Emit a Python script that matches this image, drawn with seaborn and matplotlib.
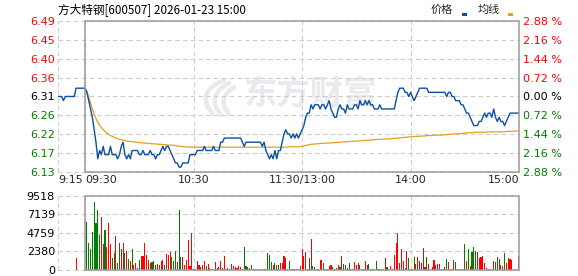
import numpy as np
import pandas as pd
import matplotlib
matplotlib.use("Agg")
import matplotlib.pyplot as plt
import seaborn as sns
from matplotlib.patches import Rectangle, PathPatch
from matplotlib.path import Path

# ---------------- data ----------------
title = "方大特钢[600507] 2026-01-23 15:00"
prev_close = 6.31

pre_minutes = [-15, -14, -13, -12, -11, -10, -9, -8, -7, -6, -5, -4, -3, -2, -1]
pre_prices = [6.31, 6.31, 6.31, 6.30, 6.31, 6.31, 6.31, 6.31, 6.31, 6.31,
              6.33, 6.33, 6.33, 6.33, 6.33]

main_prices = [
    6.33, 6.32, 6.30, 6.28, 6.26, 6.23, 6.20, 6.16, 6.18, 6.17,
    6.19, 6.17, 6.17, 6.17, 6.19, 6.17, 6.17, 6.17, 6.16, 6.17,
    6.19, 6.20, 6.17, 6.16, 6.17, 6.16, 6.18, 6.18, 6.18, 6.18,
    6.17, 6.17, 6.18, 6.17, 6.17, 6.17, 6.18, 6.17, 6.17, 6.16,
    6.17, 6.17, 6.18, 6.19, 6.18, 6.19, 6.19, 6.18, 6.17, 6.16,
    6.15, 6.15, 6.14, 6.14, 6.15, 6.15, 6.15, 6.15, 6.17, 6.17,
    6.17, 6.17, 6.18, 6.18, 6.18, 6.18, 6.19, 6.18, 6.18, 6.18,
    6.18, 6.19, 6.18, 6.18, 6.18, 6.20, 6.20, 6.21, 6.21, 6.21,
    6.21, 6.21, 6.21, 6.21, 6.21, 6.21, 6.21, 6.20, 6.19, 6.20,
    6.20, 6.20, 6.20, 6.20, 6.20, 6.20, 6.20, 6.20, 6.19, 6.20,
    6.18, 6.17, 6.16, 6.17, 6.16, 6.18, 6.16, 6.18, 6.18, 6.20,
    6.22, 6.23, 6.22, 6.22, 6.21, 6.22, 6.21, 6.22, 6.21, 6.22,
    6.23, 6.24, 6.26, 6.27, 6.27, 6.29, 6.28, 6.29, 6.29, 6.29,
    6.28, 6.29, 6.29, 6.28, 6.29, 6.30, 6.28, 6.27, 6.26, 6.26,
    6.28, 6.29, 6.28, 6.28, 6.27, 6.29, 6.28, 6.28, 6.28, 6.29,
    6.29, 6.28, 6.30, 6.29, 6.29, 6.30, 6.29, 6.30, 6.29, 6.29,
    6.28, 6.28, 6.28, 6.29, 6.28, 6.28, 6.28, 6.28, 6.28, 6.28,
    6.28, 6.28, 6.30, 6.32, 6.33, 6.33, 6.33, 6.32, 6.32, 6.31,
    6.32, 6.31, 6.30, 6.31, 6.32, 6.33, 6.33, 6.33, 6.33, 6.33,
    6.32, 6.32, 6.32, 6.32, 6.32, 6.32, 6.32, 6.32, 6.32, 6.32,
    6.31, 6.32, 6.32, 6.31, 6.31, 6.30, 6.30, 6.30, 6.29, 6.29,
    6.28, 6.27, 6.27, 6.26, 6.25, 6.24, 6.24, 6.24, 6.25, 6.25,
    6.26, 6.27, 6.26, 6.27, 6.27, 6.26, 6.28, 6.26, 6.25, 6.26,
    6.25, 6.25, 6.24, 6.25, 6.26, 6.27, 6.27, 6.27, 6.27, 6.27,
    6.27,
]

avg_prices = [
    6.330, 6.322, 6.308, 6.294, 6.280, 6.268, 6.257, 6.248, 6.241, 6.235,
    6.230, 6.226, 6.222, 6.219, 6.216, 6.214, 6.212, 6.210, 6.208, 6.207,
    6.206, 6.205, 6.204, 6.203, 6.202, 6.202, 6.201, 6.201, 6.200, 6.200,
    6.199, 6.199, 6.198, 6.198, 6.197, 6.197, 6.197, 6.196, 6.196, 6.196,
    6.195, 6.195, 6.195, 6.194, 6.194, 6.194, 6.193, 6.193, 6.193, 6.192,
    6.192, 6.191, 6.190, 6.190, 6.189, 6.189, 6.189, 6.188,
    6.188, 6.188, 6.188, 6.188, 6.188, 6.188, 6.188, 6.188, 6.188, 6.188,
    6.188, 6.188, 6.188, 6.188, 6.188, 6.188, 6.188, 6.188, 6.188, 6.188,
    6.188, 6.188, 6.188, 6.188, 6.188, 6.188, 6.188, 6.188, 6.188, 6.188,
    6.188, 6.188, 6.188, 6.188, 6.188, 6.188, 6.188, 6.188, 6.188, 6.188,
    6.188, 6.188, 6.188, 6.188, 6.188, 6.188, 6.188, 6.188, 6.188, 6.188,
    6.188, 6.188, 6.188, 6.188, 6.188,
    6.189, 6.189, 6.189, 6.189, 6.189, 6.189, 6.189,
    6.190, 6.191, 6.192, 6.193, 6.194,
    6.195, 6.195, 6.196, 6.196, 6.196, 6.197, 6.197, 6.197, 6.198, 6.198, 6.198, 6.198, 6.199,
    6.199, 6.199, 6.200, 6.200, 6.200, 6.201, 6.201, 6.201, 6.202, 6.202, 6.202, 6.202,
    6.203, 6.203, 6.203, 6.204, 6.204, 6.204, 6.205, 6.205, 6.205, 6.206, 6.206, 6.206,
    6.207, 6.207, 6.207, 6.207, 6.208, 6.208, 6.208, 6.208,
    6.209, 6.209, 6.209, 6.210, 6.210, 6.211, 6.211, 6.212, 6.212,
    6.213, 6.213, 6.213, 6.214, 6.214, 6.214, 6.214, 6.215,
    6.215, 6.215, 6.216, 6.216, 6.216, 6.216, 6.217, 6.217, 6.217, 6.217, 6.217, 6.218, 6.218,
    6.218, 6.219, 6.219, 6.219, 6.220, 6.220, 6.220, 6.220, 6.221, 6.221,
    6.222, 6.222, 6.223, 6.223, 6.223, 6.224, 6.224, 6.224, 6.224, 6.224,
    6.224, 6.224, 6.224, 6.225, 6.225, 6.225, 6.225, 6.225, 6.225, 6.225,
    6.225, 6.225, 6.225, 6.226, 6.226, 6.226,
    6.226, 6.226, 6.227, 6.227, 6.227,
]

pre_vol_minutes = [-5]
pre_volumes = [1540]
pre_vol_dirs = ["u"]

volumes = [
    6210, 3510, 2700, 4890, 8790, 6080, 7710, 4500, 6860, 3340,
    5140, 3000, 6080, 3340, 1500, 2230, 4410, 940, 3510, 2700,
    3510, 2230, 2440, 1410, 1200, 2700, 640, 940, 210, 1290,
    1800, 1800, 3430, 1930, 1290, 860, 1070, 1160, 640, 770,
    640, 1160, 1290, 640, 2010, 1930, 2360, 1720, 1200, 2440,
    1070, 7710, 1720, 1720, 640, 1290, 3860, 510, 4800, 90,
    90, 1160, 640, 430, 640, 1200, 510, 770, 210, 90,
    90, 1070, 210, 430, 1160, 210, 1800, 170, 210, 170,
    770, 510, 340, 210, 510, 340, 170, 3000, 510, 340,
    210, 640, 170, 170, 170, 170, 170, 170, 170, 170,
    2140, 1930, 1070, 640, 940, 640, 640, 940, 860, 1800,
    1540, 90, 1200, 90, 90, 90, 90, 90, 510, 2660,
    1800, 2360, 90, 1540, 3990, 510, 340, 90, 90, 1290,
    1290, 940, 90, 90, 510, 640, 340, 90, 300, 640,
    430, 1800, 770, 640, 300, 940, 90, 170, 1070, 640,
    860, 640, 90, 90, 1200, 640, 770, 90, 90, 90,
    1200, 90, 90, 90, 90, 1540, 340, 90, 510, 90,
    1930, 3510, 4800, 940, 2750, 1200, 210, 2440, 1540, 90,
    90, 1630, 770, 1630, 1160, 940, 2870, 340, 1630, 770,
    90, 340, 1290, 640, 770, 770, 90, 90, 340, 1460,
    1070, 90, 90, 1290, 1070, 90, 90, 90, 90, 3340,
    1160, 2750, 510, 2360, 2920, 2490, 2360, 1540, 1720, 1800,
    940, 300, 90, 90, 90, 1160, 990, 1630, 1460, 640,
    510, 2140, 860, 1540, 1460, 1290, 30, 90, 0, 1800,
]

vol_dirs = list(
    "dddddddduu"
    "duuudduudu"
    "udududuuud"
    "uuuuuudduu"
    "uuuduuuddd"
    "udduuuuuuu"
    "uuuuuuduuu"
    "uuuuuuuuuu"
    "uuuuuuuddu"
    "uduuuuuuuu"
    "dddududuuu"
    "uuduuuuuuu"
    "uuududduuu"
    "uduuuuduuu"
    "dudduduuuu"
    "uduuuuduuu"
    "duuuuuduuu"
    "uuuuuududu"
    "uduuuuuudu"
    "uuuuuuuuud"
    "uuuduuddud"
    "ududdduuuu"
    "uuuududdud"
    "uduuuuuuuu"
)

prev_pct = [-2.88, -2.16, -1.44, -0.72, 0.00, 0.72, 1.44, 2.16, 2.88]
price_tick_labels = ["6.13", "6.17", "6.22", "6.26", "6.31", "6.36", "6.40", "6.45", "6.49"]
pct_tick_labels = ["2.88 %", "2.16 %", "1.44 %", "0.72 %", "0.00 %", "0.72 %", "1.44 %", "2.16 %", "2.88 %"]
vol_ticks = [0, 2380, 4759, 7139, 9518]
vol_tick_labels = ["0", "2380", "4759", "7139", "9518"]
time_ticks = [-15, 0, 60, 120, 180, 240]
time_labels = ["9:15", "09:30", "10:30", "11:30/13:00", "14:00", "15:00"]

# ---------------- styling ----------------
sns.set_theme(style="white")
plt.rcParams["font.family"] = ["DejaVu Sans", "Noto Sans CJK SC"]
CJK = ["Noto Sans CJK SC", "DejaVu Sans"]

BLUE = "#0c4fa3"
ORANGE = "#e0a21c"
RED = "#ff0000"
GREEN = "#008000"
GRID = "#cccccc"
FRAME = "#9a9a9a"
WMARK = "#eaeaee"
DASH = (0, (4, 3))

W, H = 578, 276
fig = plt.figure(figsize=(W / 100, H / 100), dpi=100)
fig.patch.set_facecolor("white")
ax = fig.add_axes([58 / W, 1 - 172 / H, 461 / W, 151 / H])
axv = fig.add_axes([58 / W, 1 - 270 / H, 461 / W, 74 / H])

main_minutes = list(range(len(main_prices)))
price_df = pd.DataFrame({
    "minute": pre_minutes + main_minutes,
    "price": pre_prices + main_prices,
})
avg_df = pd.DataFrame({"minute": list(range(len(avg_prices))), "avg": avg_prices})

levels = [prev_close * (1 + p / 100) for p in prev_pct]
ylo, yhi = levels[0], levels[-1]
xlo, xhi = time_ticks[0], time_ticks[-1]

for a in (ax, axv):
    a.set_xlim(xlo, xhi)
    for s in a.spines.values():
        s.set_visible(False)
    a.set_facecolor("white")

ax.set_ylim(ylo, yhi)


def px(x, y):
    return (x / W, 1 - y / H)


# watermark (logo strokes + text)
for (p0, c, p1) in [((224, 80), (194, 93), (213, 114)),
                    ((229, 83), (205, 96), (221, 115)),
                    ((234, 87), (216, 99), (229, 114))]:
    path = Path([px(*p0), px(*c), px(*p1)], [Path.MOVETO, Path.CURVE3, Path.CURVE3])
    ax.add_patch(PathPatch(path, transform=fig.transFigure, facecolor="none",
                           edgecolor=WMARK, lw=3.2, capstyle="round", zorder=0,
                           clip_on=False))
ax.text(310 / W, 1 - 95 / H, "东方财富", transform=fig.transFigure, fontsize=24,
        fontweight="bold", color=WMARK, ha="center", va="center",
        family=CJK, zorder=0)

# grid
for lv in levels:
    ax.axhline(lv, color=GRID, lw=0.8, ls=DASH, zorder=1, clip_on=False)
for xv in time_ticks[:-1]:
    ax.axvline(xv, color=GRID, lw=0.8, ls=DASH, zorder=1, clip_on=False)
ax.add_patch(Rectangle((0, ylo), xhi, yhi - ylo, fill=False, edgecolor=FRAME,
                       lw=1.1, zorder=5, clip_on=False))

sns.lineplot(data=avg_df, x="minute", y="avg", ax=ax, color=ORANGE, lw=0.9,
             estimator=None, zorder=3)
sns.lineplot(data=price_df, x="minute", y="price", ax=ax, color=BLUE, lw=1.0,
             estimator=None, zorder=4)
ax.set_xlabel("")
ax.set_ylabel("")

ax.set_yticks(levels)
ax.set_yticklabels(price_tick_labels, fontsize=8)
for lbl, p in zip(ax.get_yticklabels(), prev_pct):
    lbl.set_color(RED if p > 0 else (GREEN if p < 0 else "black"))
ax.tick_params(axis="y", length=0, pad=2.2)

axr = ax.twinx()
for s in axr.spines.values():
    s.set_visible(False)
axr.set_ylim(ylo, yhi)
axr.set_yticks(levels)
axr.set_yticklabels(pct_tick_labels, fontsize=8)
for lbl, p in zip(axr.get_yticklabels(), prev_pct):
    lbl.set_color(RED if p > 0 else (GREEN if p < 0 else "black"))
axr.tick_params(axis="y", length=0, pad=3)
axr.grid(False)

ax.set_xticks(time_ticks)
ax.set_xticklabels(time_labels, fontsize=8)
has = ["left", "left", "center", "center", "center", "right"]
for lbl, h in zip(ax.get_xticklabels(), has):
    lbl.set_ha(h)
ax.tick_params(axis="x", length=0, pad=2.5)
ax.grid(False)

# volume panel
vmax = vol_ticks[-1]
axv.set_ylim(0, vmax)
for lv in vol_ticks:
    axv.axhline(lv, color=GRID, lw=0.8, ls=DASH, zorder=1, clip_on=False)
for xv in time_ticks[:-1]:
    axv.axvline(xv, color=GRID, lw=0.8, ls=DASH, zorder=1, clip_on=False)
axv.add_patch(Rectangle((0, 0), xhi, vmax, fill=False, edgecolor=FRAME,
                        lw=1.1, zorder=5, clip_on=False))

vol_minutes = pre_vol_minutes + list(range(1, len(volumes) + 1))
all_vol = pre_volumes + volumes
all_dirs = pre_vol_dirs + vol_dirs
bar_colors = [RED if d == "u" else GREEN for d in all_dirs]
axv.bar(vol_minutes, all_vol, width=0.6, color=bar_colors, linewidth=0, zorder=3)

axv.set_yticks(vol_ticks)
axv.set_yticklabels(vol_tick_labels, fontsize=8, color="black")
axv.tick_params(axis="y", length=0, pad=2.2)
axv.set_xticks([])
axv.grid(False)

# title & legend
fig.text(58 / W, 1 - 9.5 / H, title, fontsize=8.4, family=CJK, ha="left", va="center",
         color="black")
fig.text(431 / W, 1 - 9.5 / H, "价格", fontsize=8, family=CJK, ha="left", va="center")
fig.text(478 / W, 1 - 9.5 / H, "均线", fontsize=8, family=CJK, ha="left", va="center")
fig.patches.append(Rectangle((462 / W, 1 - 16 / H), 5 / W, 3 / H, transform=fig.transFigure,
                             facecolor=BLUE, edgecolor="none", figure=fig))
fig.patches.append(Rectangle((508 / W, 1 - 16 / H), 5 / W, 3 / H, transform=fig.transFigure,
                             facecolor=ORANGE, edgecolor="none", figure=fig))

fig.savefig("out.png", dpi=100)
